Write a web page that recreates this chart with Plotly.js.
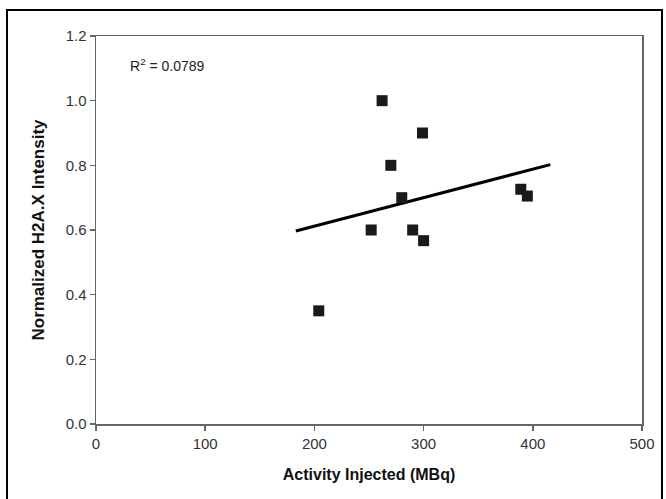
<!DOCTYPE html>
<html>
<head>
<meta charset="utf-8">
<script src="https://cdn.plot.ly/plotly-3.0.1.min.js"></script>
<style>
  html, body { margin: 0; padding: 0; background: #fff; }
  #chart { width: 666px; height: 499px; position: absolute; left: 0; top: 0; }
  #frame { position: absolute; left: 6px; top: 9px; width: 657px; height: 495px; border: 2px solid #000; pointer-events: none; box-sizing: border-box; }
</style>
</head>
<body>
<div id="chart"></div>
<div id="frame"></div>
<script>
// Data
const activity = [204, 252, 262, 270, 280, 290, 299, 300, 389, 395];   // MBq
const intensity = [0.35, 0.60, 1.00, 0.80, 0.70, 0.60, 0.90, 0.567, 0.726, 0.705];
const trendRange = [183, 416];   // extent of the drawn trendline (MBq)
const r2Label = "R<sup>2</sup> = 0.0789";
const xTicks = [0, 100, 200, 300, 400, 500];
const yTicks = [0, 0.2, 0.4, 0.6, 0.8, 1.0, 1.2];

// least squares fit
const n = activity.length;
const mx = activity.reduce((a, b) => a + b, 0) / n;
const my = intensity.reduce((a, b) => a + b, 0) / n;
let sxy = 0, sxx = 0;
for (let i = 0; i < n; i++) { sxy += (activity[i] - mx) * (intensity[i] - my); sxx += (activity[i] - mx) ** 2; }
const slope = sxy / sxx;
const intercept = my - slope * mx;
const trendX = trendRange;
const trendY = trendRange.map(x => intercept + slope * x);

const font = 'Liberation Sans, Arial, sans-serif';

const traces = [
  { x: trendX, y: trendY, mode: 'lines', type: 'scatter',
    line: { color: '#000', width: 3 }, hoverinfo: 'skip' },
  { x: activity, y: intensity, mode: 'markers', type: 'scatter',
    marker: { symbol: 'square', size: 11, color: '#1a1a1a' } }
];

const layout = {
  width: 666, height: 499,
  margin: { l: 96, r: 24, t: 36, b: 75 },
  paper_bgcolor: '#fff', plot_bgcolor: '#fff',
  showlegend: false,
  font: { family: font, size: 15, color: '#333' },
  xaxis: {
    range: [0, 500], tickvals: xTicks, ticktext: xTicks.map(String),
    showgrid: false, zeroline: false,
    showline: true, linecolor: '#666', linewidth: 1.5, mirror: true,
    ticks: 'outside', ticklen: 5, tickcolor: '#666', tickwidth: 1.5,
    tickfont: { size: 15, color: '#333' },
    title: { text: '<b>Activity Injected (MBq)</b>', font: { size: 16, color: '#111' }, standoff: 18 }
  },
  yaxis: {
    range: [0, 1.2], tickvals: yTicks, ticktext: yTicks.map(v => v.toFixed(1)),
    showgrid: false, zeroline: false,
    showline: true, linecolor: '#666', linewidth: 1.5, mirror: true,
    ticks: 'outside', ticklen: 5, tickcolor: '#666', tickwidth: 1.5,
    tickfont: { size: 15, color: '#333' },
    title: { text: '<b>Normalized H2A.X Intensity</b>', font: { size: 17, color: '#111' }, standoff: 16 }
  },
  annotations: [
    { x: 29, y: 1.11, xref: 'x', yref: 'y', text: r2Label, showarrow: false,
      xanchor: 'left', yanchor: 'middle', font: { size: 14, color: '#222', family: font } }
  ]
};

Plotly.newPlot('chart', traces, layout, { displayModeBar: false, staticPlot: true });
</script>
</body>
</html>
